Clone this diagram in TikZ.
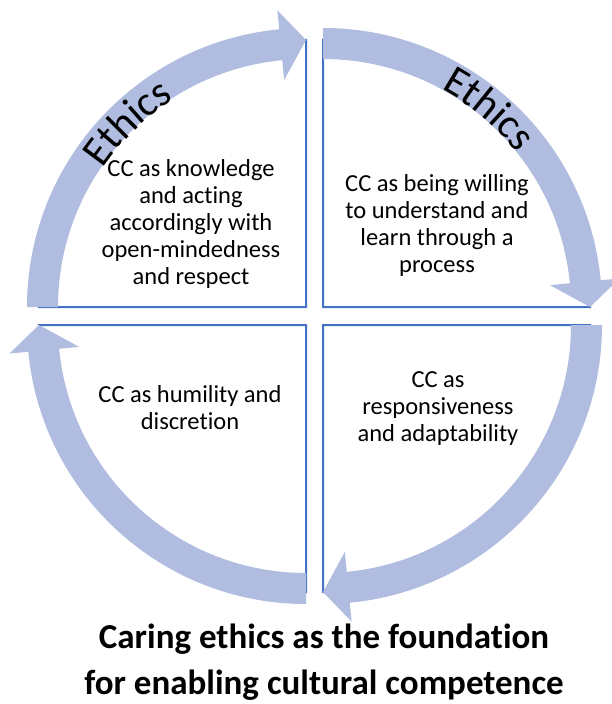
\documentclass[tikz,border=0pt]{standalone}
\usepackage{fontspec}
\setmainfont{Carlito}[Ligatures={NoCommon}]
\usetikzlibrary{decorations.text}
\definecolor{bandc}{RGB}{176,188,224}
\definecolor{linec}{RGB}{68,114,196}
\newcommand\quadpie[3]{% corner, start angle, end angle
  \begin{scope}[shift={(#1)}]
    \filldraw[pie] (0,0) -- (#3:267) arc[start angle=#3, end angle=#2, radius=267] -- cycle;
  \end{scope}}
\newcommand\qarrow[3]{% corner, start angle, tip angle
  \begin{scope}[shift={(#1)}]
    \fill[bandc] (#2:248) arc[start angle=#2, end angle=#3+5.5, radius=248]
      -- (#3+5.5:228) -- (#3:267) -- (#3+5.5:298) -- (#3+5.5:279)
      arc[start angle=#3+5.5, end angle=#2, radius=279] -- cycle;
  \end{scope}}
\newcommand\ethfont{\fontsize{42}{42}\selectfont}
\begin{document}
\begin{tikzpicture}[x=1pt,y=1pt,
  pie/.style={fill=white, draw=linec, line width=2pt},
  qtext/.style={align=center, font=\fontsize{24.5}{27}\selectfont, text=black, inner sep=0pt},
  title/.style={anchor=base, font=\fontsize{35}{46}\selectfont\bfseries, text=black, inner sep=0pt}]
\useasboundingbox (0,0) rectangle (612,-704);
\coordinate (C1) at (306,-307);
\coordinate (C2) at (323,-307);
\coordinate (C3) at (323,-325);
\coordinate (C4) at (306,-325);
% quadrants
\quadpie{C1}{180}{90}
\quadpie{C2}{90}{0}
\quadpie{C3}{0}{-90}
\quadpie{C4}{270}{180}
% arrows
\qarrow{C1}{180}{90}
\qarrow{C2}{90}{0}
\qarrow{C3}{0}{-90}
\qarrow{C4}{270}{180}
% Ethics labels
\begin{scope}[shift={(C1)}]
  \path[decorate, decoration={text along path, text align=center,
    text={|\ethfont|Ethics}}] (172:246) arc[start angle=172, end angle=96, radius=246];
\end{scope}
\begin{scope}[shift={(C2)}]
  \path[decorate, decoration={text along path, text align=center,
    text={|\ethfont|Ethics}}] (88:248) arc[start angle=88, end angle=12, radius=248];
\end{scope}
% texts
\node[qtext] (t1) at (191,-224) {CC as knowledge\\and acting\\accordingly with\\open-mindedness\\and respect};
\node[qtext] (t2) at (437,-225) {CC as being willing\\to understand and\\learn through a\\process};
\node[qtext] (t3) at (190,-408) {CC as humility and\\discretion};
\node[qtext] (t4) at (438,-409) {CC as\\responsiveness\\and adaptability};
\node[title] (ttl1) at (324,-648) {Caring ethics as the foundation};
\node[title] (ttl2) at (324,-694) {for enabling cultural competence};
\end{tikzpicture}
\end{document}
